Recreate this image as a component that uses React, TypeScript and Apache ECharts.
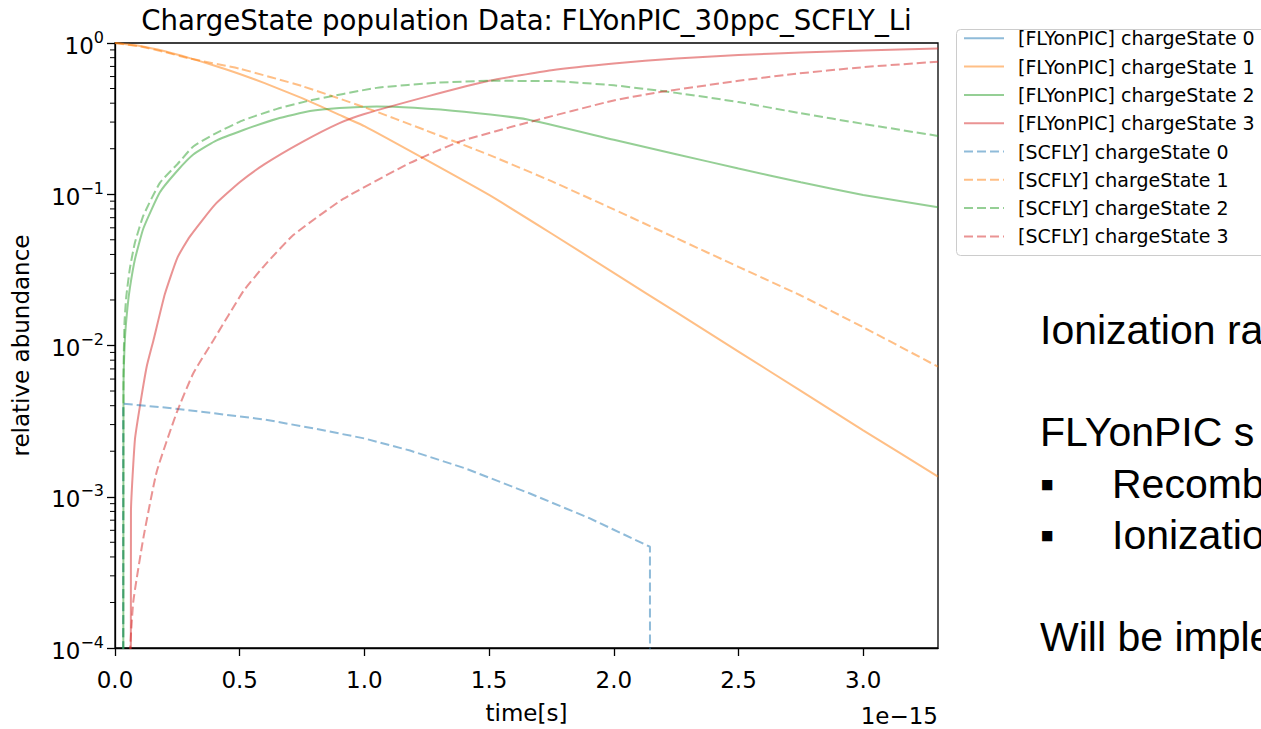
import React, { useEffect, useRef } from 'react';
import * as echarts from 'echarts';

const chartTitle = 'ChargeState population Data: FLYonPIC_30ppc_SCFLY_Li';
const xAxisName = 'time[s]';
const yAxisName = 'relative abundance';
const xOffsetText = '1e\u221215';
const xTickValues = [0, 0.5, 1.0, 1.5, 2.0, 2.5, 3.0];
const minorTickValues = [
  2e-4, 3e-4, 4e-4, 5e-4, 6e-4, 7e-4, 8e-4, 9e-4,
  2e-3, 3e-3, 4e-3, 5e-3, 6e-3, 7e-3, 8e-3, 9e-3,
  2e-2, 3e-2, 4e-2, 5e-2, 6e-2, 7e-2, 8e-2, 9e-2,
  0.2, 0.3, 0.4, 0.5, 0.6, 0.7, 0.8, 0.9,
];

const seriesNames = [
  '[FLYonPIC] chargeState 0',
  '[FLYonPIC] chargeState 1',
  '[FLYonPIC] chargeState 2',
  '[FLYonPIC] chargeState 3',
  '[SCFLY] chargeState 0',
  '[SCFLY] chargeState 1',
  '[SCFLY] chargeState 2',
  '[SCFLY] chargeState 3',
];

// time in units of 1e-15 s, relative abundance
const flyCs0: number[][] = [];
const flyCs1 = [
  [0, 1.0], [0.1, 0.955], [0.2, 0.881], [0.3, 0.794], [0.4, 0.708], [0.5, 0.624],
  [0.6, 0.543], [0.75, 0.432], [0.9, 0.335], [1.0, 0.282], [1.25, 0.168], [1.5, 0.0989],
  [1.75, 0.055], [2.0, 0.0302], [2.25, 0.0166], [2.5, 0.00912], [2.75, 0.00501],
  [3.0, 0.00275], [3.3, 0.00136],
];
const flyCs2 = [
  [0.032, 1e-9], [0.034, 0.00501], [0.04, 0.0112], [0.05, 0.0178], [0.06, 0.0242],
  [0.08, 0.0372], [0.114, 0.0596], [0.18, 0.103], [0.25, 0.143], [0.314, 0.183],
  [0.4, 0.224], [0.515, 0.266], [0.65, 0.316], [0.782, 0.355], [0.9, 0.372],
  [1.049, 0.381], [1.2, 0.373], [1.4, 0.351], [1.65, 0.313], [2.0, 0.229],
  [2.25, 0.184], [2.5, 0.148], [2.75, 0.12], [3.0, 0.0989], [3.3, 0.082],
];
const flyCs3 = [
  [0.062, 1e-9], [0.064, 0.0008], [0.08, 0.0024], [0.1, 0.00398], [0.127, 0.00724],
  [0.154, 0.0108], [0.2, 0.0219], [0.25, 0.038], [0.3, 0.0525], [0.4, 0.0851],
  [0.5, 0.12], [0.6, 0.158], [0.75, 0.221], [0.9, 0.295], [1.0, 0.339], [1.25, 0.442],
  [1.5, 0.562], [1.75, 0.661], [2.0, 0.733], [2.25, 0.791], [2.5, 0.832],
  [2.75, 0.865], [3.0, 0.893], [3.3, 0.918],
];
const scflyCs0 = [
  [0.032, 1e-9], [0.033, 0.00412], [0.2, 0.00389], [0.381, 0.00359], [0.6, 0.00324],
  [0.782, 0.00286], [1.0, 0.00243], [1.183, 0.00202], [1.4, 0.00155], [1.664, 0.00105],
  [1.9, 0.000724], [2.145, 0.000467], [2.146, 1e-9],
];
const scflyCs1 = [
  [0, 1.0], [0.1, 0.95], [0.2, 0.871], [0.3, 0.79], [0.5, 0.676], [0.75, 0.519],
  [1.0, 0.376], [1.25, 0.263], [1.5, 0.182], [1.75, 0.122], [2.0, 0.0794],
  [2.25, 0.0513], [2.5, 0.0331], [2.75, 0.0214], [3.0, 0.0132], [3.3, 0.00724],
];
const scflyCs2 = [
  [0.032, 1e-9], [0.034, 0.00631], [0.038, 0.0141], [0.045, 0.0209], [0.06, 0.0326],
  [0.08, 0.0479], [0.114, 0.0724], [0.18, 0.119], [0.25, 0.158], [0.314, 0.207],
  [0.4, 0.251], [0.515, 0.309], [0.65, 0.367], [0.782, 0.417], [1.049, 0.505],
  [1.3, 0.547], [1.5, 0.562], [1.75, 0.56], [2.0, 0.525], [2.25, 0.468],
  [2.5, 0.407], [2.75, 0.343], [3.0, 0.292], [3.3, 0.243],
];
const scflyCs3 = [
  [0.05, 0.00005], [0.073, 0.0002], [0.114, 0.000537], [0.167, 0.00146], [0.247, 0.00359],
  [0.314, 0.00655], [0.394, 0.0108], [0.515, 0.0229], [0.6, 0.0339], [0.715, 0.0537],
  [0.915, 0.0931], [1.183, 0.161], [1.383, 0.223], [1.664, 0.301], [2.0, 0.417],
  [2.178, 0.472], [2.5, 0.562], [2.713, 0.622], [3.0, 0.692], [3.3, 0.752],
];

const seriesData = [flyCs0, flyCs1, flyCs2, flyCs3, scflyCs0, scflyCs1, scflyCs2, scflyCs3];
const seriesColors = [
  'rgba(31,119,180,0.5)', 'rgba(255,127,14,0.5)', 'rgba(44,160,44,0.5)', 'rgba(214,39,40,0.5)',
  'rgba(31,119,180,0.5)', 'rgba(255,127,14,0.5)', 'rgba(44,160,44,0.5)', 'rgba(214,39,40,0.5)',
];
const seriesDashed = [false, false, false, false, true, true, true, true];
const seriesSmooth = [0.15, 0.15, 0.15, 0.15, 0, 0.15, 0.15, 0.15];

const slideLines = [
  'Ionization ra',
  'FLYonPIC s',
  'Recomb',
  'Ionizatio',
  'Will be imple',
];
const bulletChar = '\u25AA';

const FONT = 'DejaVu Sans';
const SLIDE_FONT = 'Liberation Sans';

export default function App() {
  const ref = useRef<HTMLDivElement>(null);
  useEffect(() => {
    if (!ref.current) return;
    const chart = echarts.init(ref.current, undefined, { renderer: 'svg' });
    const axisLineStyle = { color: '#000', width: 1.3 };
    const lineSeries = seriesNames.map((name, i) => ({
      name,
      type: 'line',
      data: seriesData[i],
      symbol: 'none',
      showSymbol: false,
      silent: true,
      smooth: seriesSmooth[i] || false,
      lineStyle: { color: seriesColors[i], width: 2, type: seriesDashed[i] ? [9, 4] : 'solid' },
      itemStyle: { color: seriesColors[i] },
    }));
    const minorSeries = {
      type: 'custom',
      silent: true,
      clip: false,
      data: minorTickValues.map((v) => [0, v]),
      renderItem: (params: any, api: any) => {
        const p = api.coord([api.value(0), api.value(1)]);
        return {
          type: 'line',
          shape: { x1: p[0] - 5, y1: p[1], x2: p[0], y2: p[1] },
          style: { stroke: '#000', lineWidth: 1 },
        };
      },
      z: 5,
    };
    const slideTextStyle = { fontSize: 41, fontFamily: SLIDE_FONT, fill: '#000', verticalAlign: 'middle', align: 'left' };
    chart.setOption({
      animation: false,
      backgroundColor: '#fff',
      title: {
        text: chartTitle,
        left: 526.5,
        top: 6,
        padding: 0,
        textAlign: 'center',
        textStyle: { fontFamily: FONT, fontSize: 27.6, fontWeight: 'normal', color: '#000' },
      },
      grid: {
        left: 115, top: 43, right: 323, bottom: 72,
        show: true, borderColor: '#000', borderWidth: 1.3, backgroundColor: 'transparent',
      },
      legend: {
        orient: 'vertical',
        left: 963,
        top: 28.8,
        itemWidth: 40,
        itemHeight: 19,
        itemGap: 9.3,
        selectedMode: false,
        data: seriesNames,
        padding: 0,
        itemStyle: { opacity: 0 },
        textStyle: { fontFamily: FONT, fontSize: 19, color: '#000', lineHeight: 19, padding: [0, 0, 0, 9] },
      },
      xAxis: {
        type: 'value',
        min: 0,
        max: 3.3,
        interval: 0.5,
        splitLine: { show: false },
        axisLine: { show: true, onZero: false, lineStyle: axisLineStyle },
        axisTick: { show: true, length: 8, lineStyle: axisLineStyle, customValues: xTickValues },
        axisLabel: {
          customValues: xTickValues,
          formatter: (v: number) => v.toFixed(1),
          fontFamily: FONT, fontSize: 23, color: '#000', margin: 20,
        },
        name: xAxisName,
        nameLocation: 'middle',
        nameGap: 53,
        nameTextStyle: { fontFamily: FONT, fontSize: 23, color: '#000' },
      },
      yAxis: {
        type: 'log',
        logBase: 10,
        min: 1e-4,
        max: 1,
        splitLine: { show: false },
        axisLine: { show: true, onZero: false, lineStyle: axisLineStyle },
        axisTick: { show: true, length: 8, lineStyle: axisLineStyle },
        axisLabel: {
          margin: 11,
          formatter: (v: number) => {
            const e = Math.round(Math.log10(v));
            return '{b|10}{s|' + (e < 0 ? '\u2212' + -e : String(e)) + '}';
          },
          rich: {
            b: { fontFamily: FONT, fontSize: 23, color: '#000', lineHeight: 28, verticalAlign: 'bottom' },
            s: { fontFamily: FONT, fontSize: 16, color: '#000', lineHeight: 16, verticalAlign: 'top' },
          },
        },
        name: yAxisName,
        nameLocation: 'middle',
        nameGap: 83,
        nameTextStyle: { fontFamily: FONT, fontSize: 23, color: '#000' },
      },
      graphic: [
        {
          type: 'rect',
          left: 956,
          top: 29,
          z: 0,
          shape: { width: 340, height: 226, r: 4 },
          style: { fill: 'rgba(255,255,255,0.8)', stroke: '#cccccc', lineWidth: 1 },
        },
        {
          type: 'text', x: 938, y: 716, z: 10,
          style: { text: xOffsetText, fontFamily: FONT, fontSize: 23, fill: '#000', align: 'right', verticalAlign: 'middle' },
        },
        { type: 'text', x: 1040, y: 330.3, style: { ...slideTextStyle, text: slideLines[0] } },
        { type: 'text', x: 1040, y: 431.5, style: { ...slideTextStyle, text: slideLines[1] } },
        { type: 'text', x: 1040, y: 484.1, style: { ...slideTextStyle, text: bulletChar } },
        { type: 'text', x: 1112, y: 484.1, style: { ...slideTextStyle, text: slideLines[2] } },
        { type: 'text', x: 1040, y: 535.1, style: { ...slideTextStyle, text: bulletChar } },
        { type: 'text', x: 1112, y: 535.1, style: { ...slideTextStyle, text: slideLines[3] } },
        { type: 'text', x: 1040, y: 636.5, style: { ...slideTextStyle, text: slideLines[4] } },
      ],
      series: [...lineSeries, minorSeries],
    });
    return () => chart.dispose();
  }, []);
  return (
    <div
      ref={ref}
      style={{ position: 'fixed', left: 0, top: 0, width: 1261, height: 729, background: '#fff' }}
    />
  );
}
